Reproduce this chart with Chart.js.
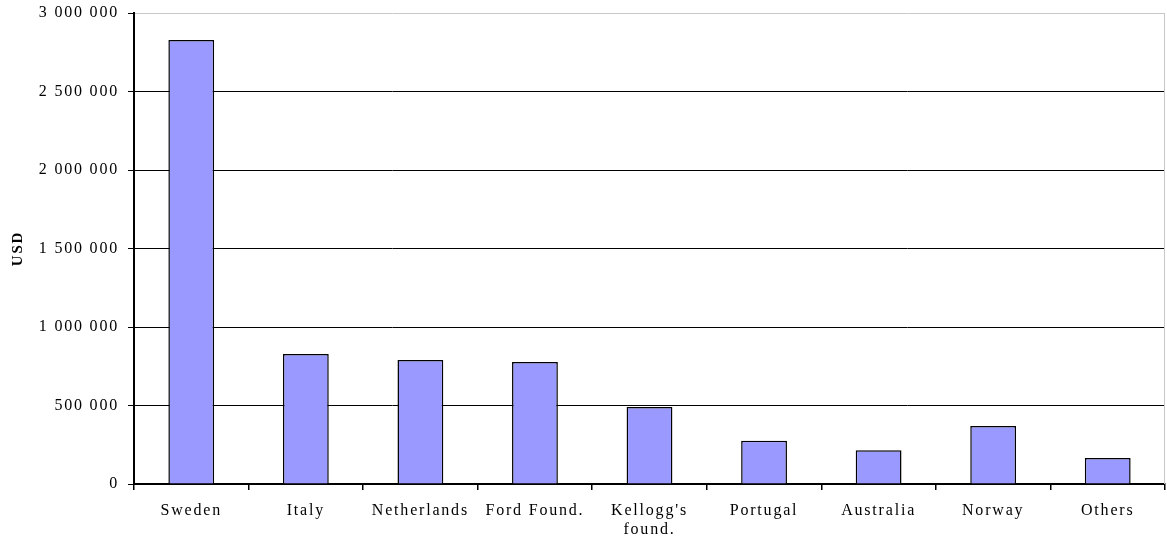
<!DOCTYPE html>
<html>
<head>
<meta charset="utf-8">
<script src="https://cdn.jsdelivr.net/npm/chart.js@4.4.1/dist/chart.umd.min.js"></script>
<style>
  html, body { margin: 0; padding: 0; background: #fff; }
  #wrap { position: relative; width: 1167px; height: 540px; }
</style>
</head>
<body>
<div id="wrap"><canvas id="donorChart"></canvas></div>
<script>
// Contributions by donor (USD)
var donors = ['Sweden', 'Italy', 'Netherlands', 'Ford Found.', ["Kellogg's", 'found.'], 'Portugal', 'Australia', 'Norway', 'Others'];
var amounts = [2828000, 828000, 790000, 777000, 490000, 275000, 215000, 369000, 165000];
var yTicks = [0, 500000, 1000000, 1500000, 2000000, 2500000, 3000000];

function spaced(v) {
  return String(v).replace(/\B(?=(\d{3})+(?!\d))/g, ' ');
}

// spaced-out lettering like the original, plus the grey frame at the right edge
var framePlugin = {
  id: 'frame',
  beforeDraw: function(chart) { chart.ctx.letterSpacing = '1.8px'; },
  afterDraw: function(chart) {
    var a = chart.chartArea, ctx = chart.ctx;
    ctx.save();
    ctx.strokeStyle = '#c8c8c8';
    ctx.lineWidth = 1;
    ctx.beginPath();
    ctx.moveTo(a.right - 0.5, a.top);
    ctx.lineTo(a.right - 0.5, a.bottom);
    ctx.stroke();
    ctx.restore();
  }
};

new Chart(document.getElementById('donorChart').getContext('2d'), {
  type: 'bar',
  data: {
    labels: donors,
    datasets: [{
      label: 'USD',
      data: amounts,
      backgroundColor: '#9999ff',
      borderColor: '#000',
      borderWidth: 1.5,
      categoryPercentage: 1,
      barPercentage: 0.4
    }]
  },
  options: {
    responsive: true,
    maintainAspectRatio: false,
    animation: false,
    layout: { padding: { top: 13, right: 2, left: 0, bottom: 0 } },
    plugins: { legend: { display: false }, tooltip: { enabled: false } },
    scales: {
      x: {
        afterFit: function(s) { s.height = 56; s.paddingLeft = 0; s.paddingRight = 0; },
        grid: { offset: true, drawOnChartArea: false, drawTicks: true, tickLength: 6, color: '#000', lineWidth: 1.5 },
        border: { color: '#000', width: 2 },
        ticks: { color: '#000', padding: 11, maxRotation: 0, autoSkip: false, font: { family: 'Liberation Serif', size: 16 } }
      },
      y: {
        min: 0,
        max: 3000000,
        afterFit: function(s) { s.width = 134; s.paddingTop = 0; s.paddingBottom = 0; },
        afterBuildTicks: function(s) { s.ticks = yTicks.map(function(v) { return { value: v }; }); },
        grid: {
          color: function(c) { return c.tick && c.tick.value === 3000000 ? '#c8c8c8' : '#000'; },
          lineWidth: 1,
          tickLength: 6,
          tickColor: '#000'
        },
        border: { color: '#000', width: 2 },
        ticks: {
          color: '#000',
          padding: 9,
          font: { family: 'Liberation Serif', size: 16 },
          callback: function(v) { return spaced(v); }
        },
        title: { display: true, text: 'USD', color: '#000', padding: { top: 9, bottom: 0 }, font: { family: 'Liberation Serif', size: 15, weight: 'bold' } }
      }
    }
  },
  plugins: [framePlugin]
});
</script>
</body>
</html>
